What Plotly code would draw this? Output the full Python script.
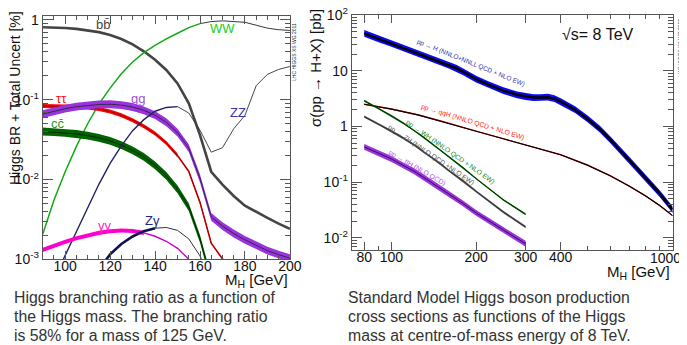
import plotly.graph_objects as go
import numpy as np

# ---------------- Left panel: Higgs branching ratios ----------------
mh_br = [90, 95, 100, 105, 110, 115, 120, 125, 130, 135, 140, 145, 150, 155, 160, 165, 170, 175, 180, 185, 190, 195, 200]
br_bb = [0.812, 0.805, 0.792, 0.773, 0.745, 0.704, 0.648, 0.577, 0.494, 0.405, 0.317, 0.236, 0.160, 0.090, 0.036, 0.0125, 0.0086, 0.0062, 0.0047, 0.0039, 0.0033, 0.0028, 0.0024]
br_ww = [0.00205, 0.0055, 0.0125, 0.026, 0.050, 0.088, 0.140, 0.212, 0.297, 0.389, 0.481, 0.581, 0.682, 0.802, 0.901, 0.955, 0.975, 0.96, 0.935, 0.86, 0.79, 0.755, 0.74]
br_tautau = [0.0836, 0.0834, 0.0825, 0.0814, 0.0802, 0.0765, 0.0710, 0.0637, 0.0554, 0.0465, 0.0377, 0.0287, 0.0200, 0.0126, 0.00516, 0.00159, 0.00101, 0.00079, 0.00065, 0.00055, 0.00047, 0.0004, 0.00035]
br_gg = [0.066, 0.0718, 0.0772, 0.0818, 0.0852, 0.0873, 0.0877, 0.0857, 0.0810, 0.0737, 0.0640, 0.0522, 0.0386, 0.0247, 0.0103, 0.0034, 0.0026, 0.0021, 0.00175, 0.0015, 0.00128, 0.00114, 0.00103]
br_cc = [0.0400, 0.0393, 0.0384, 0.0372, 0.0355, 0.0333, 0.0305, 0.0270, 0.0232, 0.0192, 0.0150, 0.0111, 0.0075, 0.0045, 0.0018, 0.00055, 0.0004, 0.0003, 0.00025, 0.0002, 0.00018, 0.00016, 0.00014]
mh_zz = [98, 100, 105, 110, 115, 120, 125, 130, 135, 140, 145, 150, 155, 160, 165, 170, 175, 180, 185, 190, 195, 200]
br_zz = [0.00085, 0.00112, 0.0023, 0.00436, 0.0087, 0.0159, 0.0264, 0.0409, 0.0563, 0.0717, 0.080, 0.082, 0.0681, 0.0415, 0.0220, 0.0250, 0.0432, 0.0637, 0.150, 0.208, 0.240, 0.261]
mh_aa = [90, 95, 100, 105, 110, 115, 120, 125, 130, 135, 140, 145, 150, 155, 158]
br_aa = [0.00131, 0.00148, 0.00165, 0.00183, 0.00200, 0.00214, 0.00224, 0.00229, 0.00226, 0.00214, 0.00194, 0.00168, 0.00137, 0.00100, 0.00075]
mh_za = [115, 120, 125, 130, 135, 140, 145, 150, 155, 160, 163]
br_za = [0.00075, 0.00115, 0.00155, 0.00193, 0.00225, 0.00245, 0.00250, 0.00230, 0.00180, 0.00110, 0.0007]

unc_gg = 0.12
unc_cc = 0.12
unc_tautau = 0.06
unc_aa = 0.06

# ---------------- Right panel: production cross sections ----------------
mh_ggf = [80, 90, 100, 110, 120, 130, 140, 150, 160, 170, 180, 200, 220, 250, 280, 300, 320, 340, 350, 360, 380, 400, 450, 500, 550, 600, 700, 800, 900, 1000]
xs_ggf = [46.9, 37.5, 31.0, 26.0, 22.0, 18.9, 16.4, 14.3, 12.6, 11.1, 9.6, 7.1, 5.7, 4.4, 3.7, 3.45, 3.3, 3.3, 3.35, 3.35, 3.15, 2.8, 2.0, 1.35, 0.9, 0.58, 0.25, 0.12, 0.062, 0.032]
mh_vbf = [80, 100, 125, 150, 200, 250, 300, 400, 500, 600, 700, 800, 900, 1000]
xs_vbf = [2.5, 2.05, 1.6, 1.25, 0.82, 0.6, 0.47, 0.31, 0.2, 0.13, 0.085, 0.057, 0.038, 0.025]
mh_vh = [80, 90, 100, 110, 120, 125, 130, 140, 150, 160, 170, 180, 200, 250, 300]
xs_wh = [2.9, 2.1, 1.55, 1.15, 0.86, 0.74, 0.64, 0.48, 0.37, 0.285, 0.225, 0.18, 0.115, 0.048, 0.0264]
xs_zh = [1.5, 1.1, 0.82, 0.62, 0.47, 0.41, 0.35, 0.27, 0.21, 0.16, 0.128, 0.105, 0.068, 0.029, 0.0156]
mh_tth = [80, 90, 100, 110, 120, 130, 140, 150, 160, 180, 200, 250, 300]
xs_tth = [0.43, 0.33, 0.26, 0.20, 0.158, 0.122, 0.096, 0.076, 0.061, 0.041, 0.028, 0.0138, 0.0078]

unc_ggf = 0.15
unc_vbf = 0.03
unc_wh = 0.04
unc_zh = 0.05
unc_tth = 0.13

caption_left = ["Higgs branching ratio as a function of",
                "the Higgs mass. The branching ratio",
                "is 58% for a mass of 125 GeV."]
caption_right = ["Standard Model Higgs boson production",
                 "cross sections as functions of the Higgs",
                 "mass at centre-of-mass energy of 8 TeV."]

FONT = "Liberation Sans"
fig = go.Figure()

# page has an 8px body margin: the figure covers page pixels 8..687 x 8..345
OFF = 8.0
W, H = 687.0 - OFF, 345.0 - OFF


def dx(a, b):
    return [(a - OFF) / W, (b - OFF) / W]


def dy(top, bottom):
    return [1 - (bottom - OFF) / H, 1 - (top - OFF) / H]


def band(x, y, u, color, xa, ya, mask=None):
    x = np.asarray(x, float)
    y = np.asarray(y, float)
    if mask is not None:
        x, y = x[mask], y[mask]
    up = y * (1 + u)
    lo = y / (1 + u)
    fig.add_trace(go.Scatter(x=np.concatenate([x, x[::-1]]), y=np.concatenate([up, lo[::-1]]),
                             fill="toself", fillcolor=color, line=dict(width=0), mode="lines",
                             hoverinfo="skip", showlegend=False, xaxis=xa, yaxis=ya))


def line(x, y, color, width, xa, ya, mask=None):
    x = np.asarray(x, float)
    y = np.asarray(y, float)
    if mask is not None:
        x, y = x[mask], y[mask]
    fig.add_trace(go.Scatter(x=x, y=y, mode="lines", line=dict(color=color, width=width),
                             hoverinfo="skip", showlegend=False, xaxis=xa, yaxis=ya))


m = np.asarray(mh_br, float)
line(mh_br, br_bb, "#444444", 2.6, "x", "y")
line(mh_br, br_ww, "#11aa11", 1.5, "x", "y", m <= 160)
line(mh_br, br_ww, "#222222", 0.9, "x", "y", m >= 160)
band(mh_br, br_tautau, unc_tautau, "#ff0000", "x", "y", m <= 150)
line(mh_br, br_tautau, "#ee0000", 1.6, "x", "y", m >= 145)
line(mh_br, br_tautau, "#880000", 0.8, "x", "y")
band(mh_br, br_gg, unc_gg, "#9933dd", "x", "y")
line(mh_br, br_gg, "#222222", 0.8, "x", "y")
band(mh_br, br_cc, unc_cc, "#006400", "x", "y")
line(mh_br, br_cc, "#001a00", 0.8, "x", "y")
mz = np.asarray(mh_zz, float)
line(mh_zz, br_zz, "#222266", 1.4, "x", "y", mz <= 150)
line(mh_zz, br_zz, "#333333", 0.9, "x", "y", mz >= 150)
ma = np.asarray(mh_aa, float)
band(mh_aa, br_aa, unc_aa, "#ff00cc", "x", "y", ma <= 135)
line(mh_aa, br_aa, "#cc00cc", 1.4, "x", "y", ma >= 130)
mza = np.asarray(mh_za, float)
line(mh_za, br_za, "#111155", 2.6, "x", "y", mza <= 140)
line(mh_za, br_za, "#333344", 1.0, "x", "y", mza >= 140)

band(mh_ggf, xs_ggf, unc_ggf, "#0a0aff", "x2", "y2")
line(mh_ggf, xs_ggf, "#000000", 2.5, "x2", "y2")
band(mh_vbf, xs_vbf, unc_vbf, "#ff0000", "x2", "y2")
line(mh_vbf, xs_vbf, "#000000", 1.2, "x2", "y2")
band(mh_vh, xs_wh, unc_wh, "#006600", "x2", "y2")
line(mh_vh, xs_wh, "#003300", 1.0, "x2", "y2")
band(mh_vh, xs_zh, unc_zh, "#555555", "x2", "y2")
line(mh_vh, xs_zh, "#333333", 1.0, "x2", "y2")
band(mh_tth, xs_tth, unc_tth, "#9933dd", "x2", "y2")
line(mh_tth, xs_tth, "#220033", 0.8, "x2", "y2")


def minor_log(lo, hi):
    vals = []
    for e in range(lo, hi):
        for k in range(2, 10):
            vals.append(k * 10 ** e)
    return vals


axis_common = dict(showline=True, linecolor="#555555", linewidth=1, mirror="allticks",
                   ticks="inside", tickcolor="#555555", showgrid=False, zeroline=False,
                   automargin=False, ticklabeloverflow="allow",
                   tickfont=dict(family=FONT, size=14, color="#111111"))

fig.update_layout(
    template="none",
    width=int(W), height=int(H), margin=dict(l=0, r=0, t=0, b=0, autoexpand=False),
    paper_bgcolor="white", plot_bgcolor="white",
    xaxis=dict(domain=dx(42.7, 290), range=[90, 200.05], tickvals=[100, 120, 140, 160, 180, 200],
               ticklen=8, ticklabelstandoff=-6,
               minor=dict(dtick=5, tick0=90, ticks="inside", ticklen=4, tickcolor="#555555"),
               anchor="y", **axis_common),
    yaxis=dict(domain=dy(16, 259.3), type="log", range=[-3.001, 0.05],
               tickvals=[0.001, 0.01, 0.1, 1], ticktext=["10<sup>-3</sup>", "10<sup>-2</sup>", "10<sup>-1</sup>", "1"],
               ticklen=10, minor=dict(tickvals=minor_log(-3, 0), ticks="inside", ticklen=5, tickcolor="#555555"),
               anchor="x", **axis_common),
    xaxis2=dict(domain=dx(351.7, 672.7), type="log", range=[np.log10(72.2), 3.0005],
                tickvals=[80, 100, 200, 300, 400, 1000], ticktext=["80", "100", "200", "300", "400", " "],
                ticklen=8, ticklabelstandoff=-6,
                minor=dict(tickvals=[90, 500, 600, 700, 800, 900], ticks="inside", ticklen=4, tickcolor="#555555"),
                anchor="y2", **axis_common),
    yaxis2=dict(domain=dy(15, 250), type="log", range=[-2.22, 2.002],
                tickvals=[0.01, 0.1, 1, 10, 100], ticktext=["10<sup>-2</sup>", "10<sup>-1</sup>", "1", "10", "10<sup>2</sup>"],
                ticklen=10,
                minor=dict(tickvals=minor_log(-3, 2), ticks="inside", ticklen=5, tickcolor="#555555"),
                anchor="x2", **axis_common),
)

ann = []


def px(x, y, s, size=12, color="#000", angle=0, xanchor="center", yanchor="middle"):
    ann.append(dict(x=(x - OFF) / W, y=1 - (y - OFF) / H, xref="paper", yref="paper", text=s, showarrow=False,
                    textangle=angle, xanchor=xanchor, yanchor=yanchor,
                    font=dict(family=FONT, size=size, color=color)))


px(103, 25, "bb\u0304", size=13, color="#444444")
px(222, 28, "WW", size=13, color="#22cc22")
px(61, 98, "\u03c4\u03c4", size=13, color="#ff1111")
px(138, 98, "gg", size=13, color="#a050e0")
px(58, 123, "cc\u0304", size=13, color="#229922")
px(238, 112, "ZZ", size=13, color="#3333aa")
px(105, 225, "\u03b3\u03b3", size=13, color="#ff22cc")
px(152, 221, "Z\u03b3", size=13, color="#222288")
px(294, 52, "LHC HIGGS XS WG 2011", size=5, color="#222222", angle=-90)
px(15, 98, "Higgs BR + Total Uncert [%]", size=14, color="#111111", angle=-90)
px(290, 280, "M<sub>H</sub> [GeV]", size=15, color="#111111", xanchor="right")

px(315, 68, "\u03c3(pp \u2192 H+X) [pb]", size=15, color="#111111", angle=-90)
px(672, 272, "M<sub>H</sub> [GeV]", size=15, color="#111111", xanchor="right")
px(683, 258, "1000", size=14, color="#111111", xanchor="right")
px(598, 35, "\u221As= 8 TeV", size=16, color="#111111")
px(680, 48, "LHC HIGGS XS WG 2012", size=5, color="#222222", angle=-90)
px(471, 63, "pp \u2192 H (NNLO+NNLL QCD + NLO EW)", size=6.5, color="#3333aa", angle=22)
px(472, 122, "pp \u2192 qqH (NNLO QCD + NLO EW)", size=6.8, color="#ff2222", angle=17)
px(450, 152, "pp \u2192 WH (NNLO QCD + NLO EW)", size=6.8, color="#228822", angle=35)
px(431, 155, "pp \u2192 ZH (NNLO QCD +NLO EW)", size=6.8, color="#555555", angle=34)
px(417, 168, "pp \u2192 ttH (NLO QCD)", size=6.8, color="#aa55ee", angle=30)

for i, s in enumerate(caption_left):
    px(12, 297 + 19 * i, s, size=15.8, color="#333333", xanchor="left")
for i, s in enumerate(caption_right):
    px(346, 297 + 19 * i, s, size=15.8, color="#333333", xanchor="left")

fig.update_layout(annotations=ann)
fig.write_html("out.html")
